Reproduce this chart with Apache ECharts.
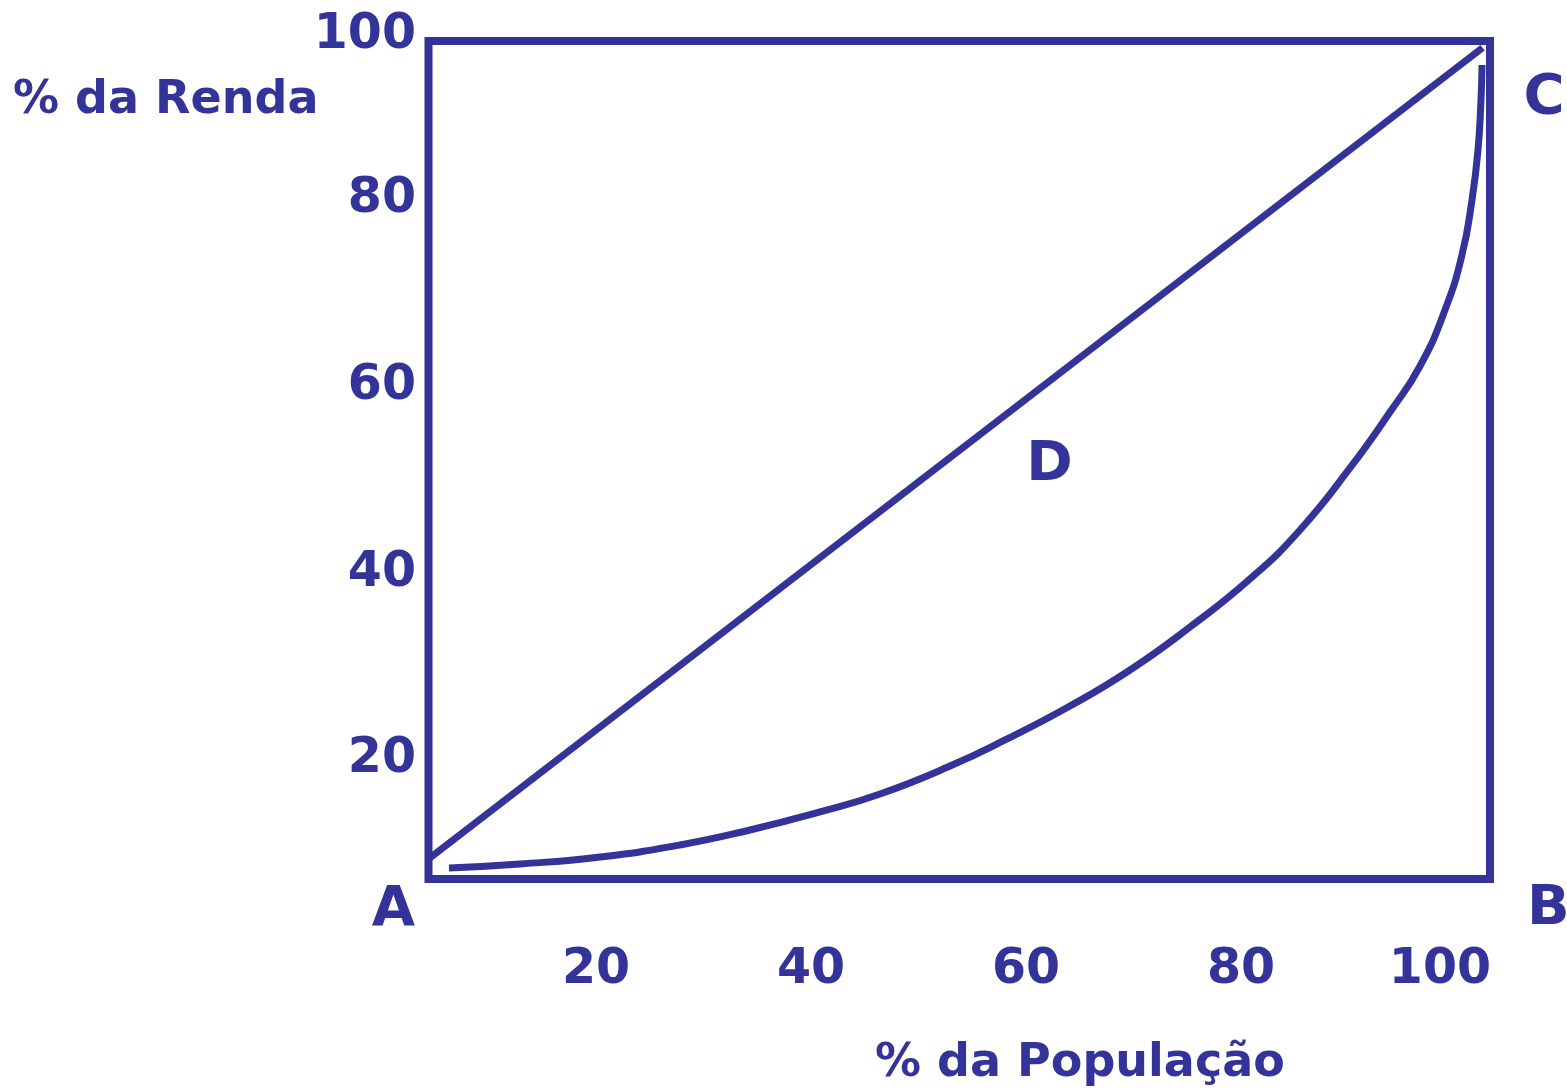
<!DOCTYPE html>
<html>
<head>
<meta charset="utf-8">
<title>Curva de Lorenz</title>
<script src="https://cdn.jsdelivr.net/npm/echarts@6/dist/echarts.min.js"></script>
<style>
  html, body { margin: 0; padding: 0; background: #fff; }
  #chart { width: 1567px; height: 1089px; }
</style>
</head>
<body>
<div id="chart"></div>
<script>
// Curva de Lorenz (% da população x % da renda)
const curveX = [1.93, 8.62, 16.16, 23.69, 30.29, 36.88, 42.53, 49.13, 54.31, 60.43, 66.09, 71.74,
                77.39, 82.10, 86.81, 90.58, 93.41, 95.76, 97.36, 98.30, 98.87, 99.15, 99.25];
const curveY = [1.31, 1.79, 2.63, 4.06, 5.85, 8.00, 10.14, 13.48, 16.59, 20.64, 24.94, 30.07,
                35.80, 41.65, 49.05, 55.73, 61.22, 67.90, 74.46, 81.00, 86.99, 92.96, 97.14];

// linha de igualdade
const equalityX = [-0.4, 99.3];
const equalityY = [2.0, 99.2];

const tickLabels = [20, 40, 60, 80, 100];

const pointNames = ['A', 'B', 'C', 'D'];
const pointX = [-3.3, 105.5, 105.1, 58.5];
const pointY = [-3.7, -3.6, 93.1, 49.4];

const BLUE = '#333399';
const FONT = 'DejaVu Sans';

let chart = echarts.init(document.getElementById('chart'));

function pairs(xs, ys) {
    return xs.map((x, i) => [x, ys[i]]);
}

let hiddenAxis = { show: false, min: 0, max: 100 };

let option = {
    animation: false,
    backgroundColor: '#ffffff',
    title: [
        {
            text: '% da Renda', left: 13, top: 78, padding: 0,
            textStyle: { color: BLUE, fontFamily: FONT, fontWeight: 'bold', fontSize: 46 }
        },
        {
            text: '% da População', left: 875, top: 1041, padding: 0,
            textStyle: { color: BLUE, fontFamily: FONT, fontWeight: 'bold', fontSize: 46 }
        }
    ],
    grid: [
        // caixa principal
        { left: 428.5, right: 77, top: 41, bottom: 210, show: true, borderColor: BLUE, borderWidth: 8, backgroundColor: 'transparent' },
        // rótulos do eixo x
        { left: 381, right: 111, top: 41, bottom: 143 },
        // rótulos do eixo y
        { left: 416, right: 100, top: 13, bottom: 143 }
    ],
    xAxis: [
        Object.assign({ gridIndex: 0, type: 'value' }, hiddenAxis),
        {
            gridIndex: 1, type: 'value', min: 0, max: 100, interval: 20,
            axisLine: { show: false }, axisTick: { show: false }, splitLine: { show: false },
            axisLabel: {
                margin: 0,
                color: BLUE, fontFamily: FONT, fontWeight: 'bold', fontSize: 49,
                formatter: v => tickLabels.indexOf(v) < 0 ? '' : (v === 100 ? '{e|100}' : String(v)),
                rich: { e: { color: BLUE, fontFamily: FONT, fontWeight: 'bold', fontSize: 49, padding: [0, 32, 0, 0] } }
            }
        },
        Object.assign({ gridIndex: 2, type: 'value' }, hiddenAxis)
    ],
    yAxis: [
        Object.assign({ gridIndex: 0, type: 'value' }, hiddenAxis),
        Object.assign({ gridIndex: 1, type: 'value' }, hiddenAxis),
        {
            gridIndex: 2, type: 'value', min: 0, max: 100, interval: 20,
            axisLine: { show: false }, axisTick: { show: false }, splitLine: { show: false },
            axisLabel: {
                margin: 0,
                color: BLUE, fontFamily: FONT, fontWeight: 'bold', fontSize: 49,
                formatter: v => tickLabels.indexOf(v) < 0 ? '' : (v === 100 ? '{t|100}' : String(v)),
                rich: { t: { color: BLUE, fontFamily: FONT, fontWeight: 'bold', fontSize: 49, padding: [44, 0, 0, 0] } }
            }
        }
    ],
    series: [
        {
            name: 'Igualdade',
            type: 'line',
            xAxisIndex: 0, yAxisIndex: 0,
            clip: false,
            symbol: 'none',
            lineStyle: { color: BLUE, width: 7 },
            data: pairs(equalityX, equalityY)
        },
        {
            name: 'Lorenz',
            type: 'line',
            xAxisIndex: 0, yAxisIndex: 0,
            clip: false,
            symbol: 'none',
            smooth: 0.5,
            lineStyle: { color: BLUE, width: 7, cap: 'butt' },
            data: pairs(curveX, curveY)
        },
        {
            name: 'Pontos',
            type: 'scatter',
            xAxisIndex: 0, yAxisIndex: 0,
            clip: false,
            symbolSize: 0,
            itemStyle: { opacity: 1 },
            label: {
                show: true, position: 'inside',
                color: BLUE, fontFamily: FONT, fontWeight: 'bold', fontSize: 56,
                formatter: p => p.data[2]
            },
            data: pointNames.map((n, i) => [pointX[i], pointY[i], n])
        }
    ]
};

chart.setOption(option);
</script>
</body>
</html>
